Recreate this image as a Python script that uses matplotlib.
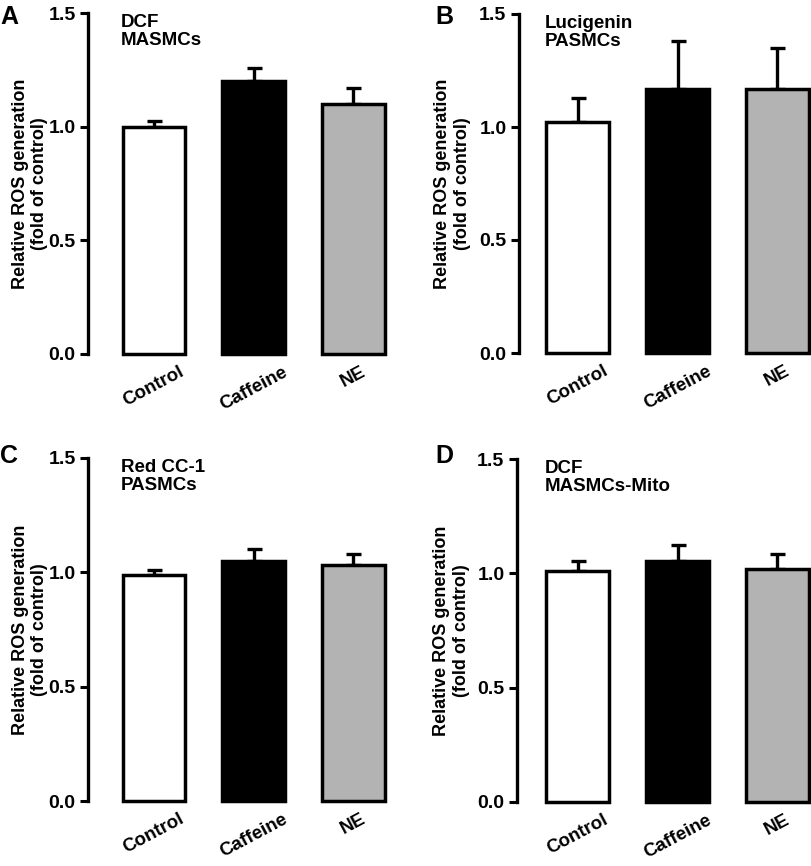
import numpy as np
import matplotlib
matplotlib.use("Agg")
import matplotlib.pyplot as plt

plt.rcParams["font.family"] = ["Liberation Sans", "DejaVu Sans"]
plt.rcParams["font.weight"] = "bold"

groups = ["Control", "Caffeine", "NE"]
colors = ["white", "black", "#b3b3b3"]

# mean values and upper SEM for each panel
vals_a = [1.00, 1.20, 1.10]
err_a = [0.025, 0.06, 0.07]
vals_b = [1.02, 1.17, 1.17]
err_b = [0.11, 0.21, 0.18]
vals_c = [0.99, 1.05, 1.03]
err_c = [0.02, 0.05, 0.05]
vals_d = [1.01, 1.055, 1.02]
err_d = [0.045, 0.07, 0.065]

letters = ["A", "B", "C", "D"]
notes = ["DCF\nMASMCs", "Lucigenin\nPASMCs", "Red CC-1\nPASMCs", "DCF\nMASMCs-Mito"]
yticks = [0.0, 0.5, 1.0, 1.5]

W, H = 812, 866
fig = plt.figure(figsize=(W / 100, H / 100), dpi=100)


def px_rect(left, top_y, bottom_y, right):
    return [left / W, (H - bottom_y) / H, (right - left) / W, (bottom_y - top_y) / H]


# axes placement (pixels) and x limits
layout = [
    (px_rect(88, 13, 354, 400), (-0.663, 2.47), -0.127),
    (px_rect(519, 14, 353, 812), (-0.59, 2.346), -0.165),
    (px_rect(88, 458, 801, 400), (-0.663, 2.47), -0.127),
    (px_rect(517, 459, 802, 812), (-0.61, 2.346), -0.16),
]
data = [(vals_a, err_a), (vals_b, err_b), (vals_c, err_c), (vals_d, err_d)]

for i, ((rect, xlim, labx), (vals, err)) in enumerate(zip(layout, data)):
    ax = fig.add_axes(rect)
    x = np.arange(len(groups))
    ax.errorbar(x, vals, yerr=[np.zeros(len(vals)), err], fmt="none",
                ecolor="black", elinewidth=2.4, capsize=5.4, capthick=2.4,
                zorder=1, clip_on=False)
    ax.bar(x, vals, width=0.63, color=colors, edgecolor="black",
           linewidth=2.5, zorder=2, clip_on=False)

    ax.set_xlim(*xlim)
    ax.set_ylim(0, 1.5)
    ax.set_yticks(yticks)
    ax.set_yticklabels([f"{t:.1f}" for t in yticks], fontsize=14, fontweight="bold")
    ax.set_xticks(x)
    ax.set_xticklabels(groups, rotation=28, ha="center", fontsize=13.5,
                       fontweight="bold")
    ax.tick_params(axis="x", length=0, pad=7)
    ax.tick_params(axis="y", length=6, width=2.2, pad=3)

    for s in ["top", "right", "bottom"]:
        ax.spines[s].set_visible(False)
    ax.spines["left"].set_linewidth(2.4)

    ax.set_ylabel("Relative ROS generation\n(fold of control)", fontsize=13,
                  fontweight="bold", linespacing=1.2)
    ax.yaxis.set_label_coords(labx, 0.5)

    ax.text(-0.33, 1.495, notes[i], fontsize=13.5, fontweight="bold",
            va="top", ha="left", linespacing=1.1)

    lx = 0.0 if i % 2 == 0 else 435 / W
    ly = 1 - 5 / H if i < 2 else 1 - 444 / H
    fig.text(lx, ly, letters[i], fontsize=18, fontweight="bold", va="top", ha="left")

fig.savefig("out.png", dpi=100)
